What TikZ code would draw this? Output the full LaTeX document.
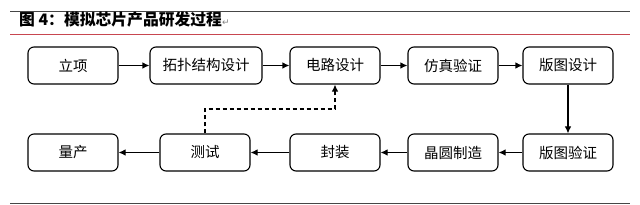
\documentclass[tikz,border=0pt]{standalone}
\usepackage{fontspec}
\newfontfamily\cjk{Noto Sans CJK SC}
\newfontfamily\symf{DejaVu Sans}
\usetikzlibrary{arrows.meta}
\definecolor{rulered}{RGB}{200,70,80}
\definecolor{rulegray}{RGB}{70,70,70}
\tikzset{
  stepbox/.style={draw=black, line width=1.1pt, rounded corners=6pt,
    minimum width=90pt, minimum height=37pt, inner sep=0pt,
    font=\cjk\fontsize{14.5}{15}\selectfont},
  flow/.style={line width=1.1pt, -{Latex[length=7pt,width=6.5pt]}},
  dflow/.style={flow, dash pattern=on 4pt off 3pt}
}
\begin{document}
\begin{tikzpicture}[x=1pt,y=-1pt]
\useasboundingbox (0,0) rectangle (640,205);
% rules
\coordinate (t1) at (10,11); \coordinate (t2) at (630,11);
\coordinate (r1) at (10,34); \coordinate (r2) at (630,34);
\coordinate (b1) at (10,204); \coordinate (b2) at (630,204);
\draw[rulegray, line width=0.9pt] (t1) -- (t2);
\draw[rulered, line width=0.9pt] (r1) -- (r2);
\draw[rulegray, line width=1pt] (b1) -- (b2);
\node[anchor=west, inner sep=0pt, font=\cjk\bfseries\fontsize{15.8}{16}\selectfont] (title) at (19,19.5)
  {图 4：模拟芯片产品研发过程{\symf\mdseries\fontsize{9}{9}\selectfont\color{gray}↵}};
% row 1
\node[stepbox] (lx) at (73,65.5) {立项};
\node[stepbox, minimum width=112pt] (tp) at (206,65.5) {拓扑结构设计};
\node[stepbox] (dl) at (335,65.5) {电路设计};
\node[stepbox] (fz) at (453,65.5) {仿真验证};
\node[stepbox] (bt) at (568,65.5) {版图设计};
% row 2
\node[stepbox] (lc) at (73,152.5) {量产};
\node[stepbox] (cs) at (205,152.5) {测试};
\node[stepbox] (fzh) at (335,152.5) {封装};
\node[stepbox] (jy) at (453,152.5) {晶圆制造};
\node[stepbox] (by) at (568,152.5) {版图验证};
% connectors
\draw[flow] (lx) -- (tp);
\draw[flow] (tp) -- (dl);
\draw[flow] (dl) -- (fz);
\draw[flow] (fz) -- (bt);
\draw[flow] (bt) -- (by);
\draw[flow] (by) -- (jy);
\draw[flow] (jy) -- (fzh);
\draw[flow] (fzh) -- (cs);
\draw[flow] (cs) -- (lc);
\coordinate (dm) at (335,109);
\draw[dflow] (cs.north) |- (dm) -- (dl.south);
\end{tikzpicture}
\end{document}
